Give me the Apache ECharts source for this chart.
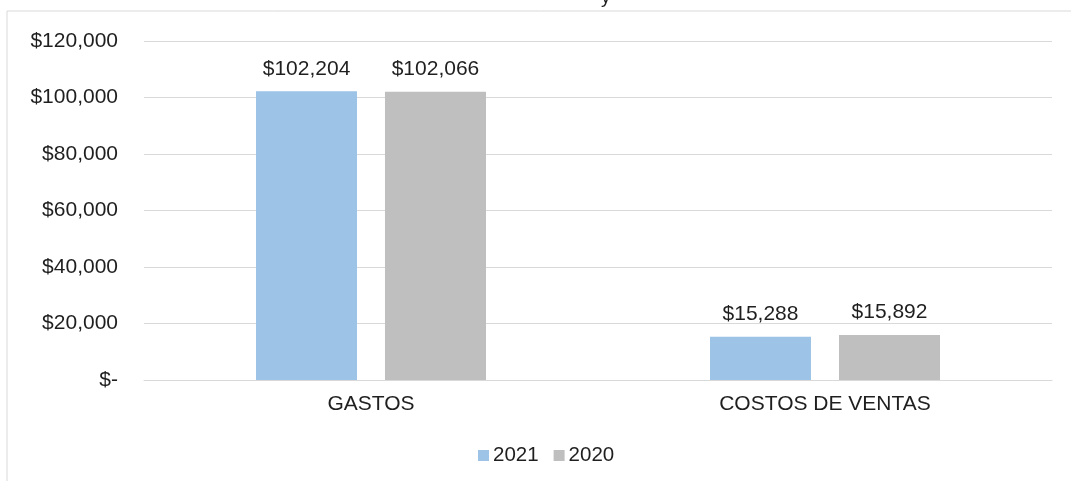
<!DOCTYPE html>
<html>
<head>
<meta charset="utf-8">
<script src="https://cdn.jsdelivr.net/npm/echarts@6/dist/echarts.min.js"></script>
<style>html,body{margin:0;padding:0;background:#fff}#c{width:1071px;height:481px}</style>
</head>
<body>
<div id="c"></div>
<script>
const categories = ['GASTOS', 'COSTOS DE VENTAS'];
const seriesNames = ['2021', '2020'];
const values2021 = [102204, 15288];
const values2020 = [102066, 15892];
const colors = ['#9DC3E6', '#BFBFBF'];

function money(v) {
  if (v === 0) return '$-';
  return '$' + v.toLocaleString('en-US');
}

const chart = echarts.init(document.getElementById('c'));
const font = 'Liberation Sans, Arial, sans-serif';
const txt = '#1f1f1f';
const fs = 21;
chart.setOption({
  animation: false,
  textStyle: { fontFamily: font },
  title: {
    text: 'y',
    left: 596,
    top: -17,
    textStyle: { fontFamily: font, fontSize: 19, fontWeight: 'normal', color: txt }
  },
  graphic: [{
    type: 'rect',
    shape: { x: 7, y: 11, width: 1200, height: 600 },
    style: { fill: 'none', stroke: '#D9D9D9', lineWidth: 1 },
    silent: true,
    z: -10
  }],
  grid: { left: 144, right: 19, top: 41, bottom: 101, containLabel: false },
  legend: {
    data: seriesNames,
    left: 473,
    top: 440,
    itemWidth: 11,
    itemHeight: 11,
    itemGap: 15,
    icon: 'rect',
    textStyle: { fontFamily: font, fontSize: 20.5, color: txt, padding: [0, 0, 0, -1] }
  },
  xAxis: {
    type: 'category',
    data: categories,
    axisLine: { lineStyle: { color: '#D9D9D9', width: 1 } },
    axisTick: { show: false },
    axisLabel: { fontFamily: font, fontSize: fs, color: txt, margin: 14 }
  },
  yAxis: {
    type: 'value',
    min: 0,
    max: 120000,
    interval: 20000,
    axisLine: { show: false },
    axisTick: { show: false },
    splitLine: { lineStyle: { color: '#D9D9D9', width: 1 } },
    axisLabel: { fontFamily: font, fontSize: fs, color: txt, margin: 26, formatter: money }
  },
  series: [
    {
      name: seriesNames[0], type: 'bar', data: values2021, barWidth: 101, barGap: '27.7%',
      itemStyle: { color: colors[0] },
      label: { show: true, position: 'top', distance: 12, fontFamily: font, fontSize: fs, color: txt, formatter: p => money(p.value) }
    },
    {
      name: seriesNames[1], type: 'bar', data: values2020, barWidth: 101, barGap: '27.7%',
      itemStyle: { color: colors[1] },
      label: { show: true, position: 'top', distance: 12, fontFamily: font, fontSize: fs, color: txt, formatter: p => money(p.value) }
    }
  ]
});
</script>
</body>
</html>
